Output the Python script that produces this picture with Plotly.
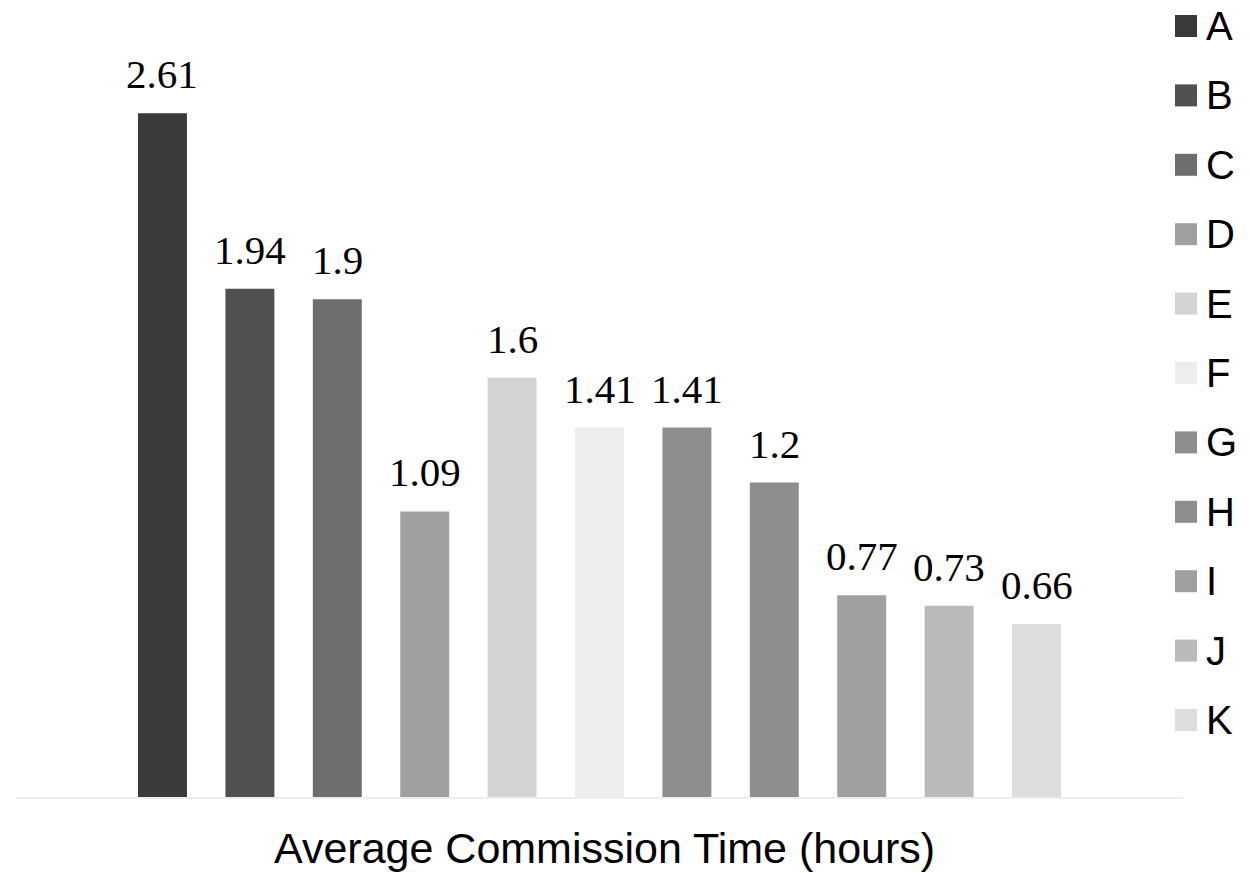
import plotly.graph_objects as go

# Commission time per group (hours)
categories = ["A", "B", "C", "D", "E", "F", "G", "H", "I", "J", "K"]
values = [2.61, 1.94, 1.9, 1.09, 1.6, 1.41, 1.41, 1.2, 0.77, 0.73, 0.66]
colors = ["#3a3a3a", "#505050", "#6e6e6e", "#a0a0a0", "#d3d3d3", "#ededed",
          "#8e8e8e", "#8e8e8e", "#a0a0a0", "#bababa", "#dddddd"]
title_text = "Average Commission Time (hours)"

W, H = 1250, 873
ML, MR, MT, MB = 16, 67, 11, 76
plot_w = W - ML - MR
plot_h = H - MT - MB


def px_x(p):
    return (p - ML) / plot_w


def px_y(p):
    return (H - MB - p) / plot_h


fig = go.Figure()
for cat, val, col in zip(categories, values, colors):
    fig.add_trace(go.Bar(
        x=[cat], y=[val], name=cat, marker=dict(color=col, line=dict(width=0)),
        width=0.56, showlegend=False, hoverinfo="x+y",
    ))

annotations = []
# value labels above each bar
for cat, val in zip(categories, values):
    annotations.append(dict(
        x=cat, y=val, xref="x", yref="y", text=f"{val:g}", showarrow=False,
        yanchor="bottom", yshift=14,
        font=dict(family="Liberation Serif", size=41, color="#000000"),
    ))

# key on the right
shapes = []
for i, (cat, col) in enumerate(zip(categories, colors)):
    cy = 26 + i * 69.4
    shapes.append(dict(
        type="rect", xref="paper", yref="paper",
        x0=px_x(1175), x1=px_x(1197), y0=px_y(cy + 11), y1=px_y(cy - 11),
        fillcolor=col, line=dict(width=0),
    ))
    annotations.append(dict(
        x=px_x(1204), y=px_y(cy), xref="paper", yref="paper", text=cat,
        showarrow=False, xanchor="left", yanchor="middle",
        font=dict(family="Liberation Sans", size=40, color="#000000"),
    ))

annotations.append(dict(
    x=px_x(604), y=0, xref="paper", yref="paper", text=title_text,
    showarrow=False, xanchor="center", yanchor="top", yshift=-25,
    font=dict(family="Liberation Sans", size=43, color="#000000"),
))

fig.update_layout(
    width=W, height=H,
    margin=dict(l=ML, r=MR, t=MT, b=MB, pad=0),
    paper_bgcolor="#ffffff", plot_bgcolor="#ffffff",
    barmode="overlay",
    showlegend=False,
    xaxis=dict(
        type="category", categoryorder="array", categoryarray=categories,
        range=[-1.676, 11.676], showticklabels=False, ticks="",
        showgrid=False, zeroline=False,
        showline=True, linecolor="#eeeeee", linewidth=2,
    ),
    yaxis=dict(
        range=[0, 3], visible=False, showgrid=False, zeroline=False,
    ),
    shapes=shapes,
    annotations=annotations,
)

fig.write_html("out.html")
